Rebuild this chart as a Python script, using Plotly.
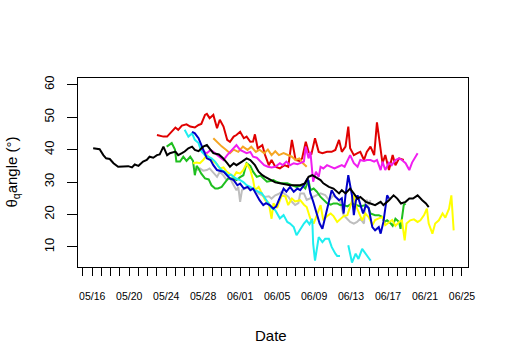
import pandas as pd
import plotly.graph_objects as go

# ---- data (day offset from 05/16, angle in degrees) ----
start_date = "2015-05-16"

black_day = [0.1,0.8,1.2,1.5,1.9,2.3,2.8,3.3,3.9,4.3,4.6,5.0,5.5,5.9,6.2,6.6,7.0,7.3,7.7,8.1,8.4,9.0,9.3,9.7,10.0,10.4,10.8,11.1,11.5,12.0,12.4,12.7,13.1,13.7,14.1,14.6,14.9,15.3,15.6,16.2,16.7,17.1,17.6,18.0,18.4,18.7,19.3,19.8,20.3,20.9,21.4,22.0,22.5,23.0,23.4,23.8,24.1,24.7,25.0,25.6,26.1,26.7,27.0,27.4,27.9,28.3,28.7,29.0,29.6,30.1,30.6,31.2,31.5,32.1,32.6,33.0,33.4,33.9,34.3,34.7,35.2,35.7,36.1,36.4]
black_val = [40.4,40.1,38.3,37.3,37.1,35.8,34.7,34.7,34.9,34.5,35.4,35.0,36.3,36.8,37.8,37.5,38.3,38.5,40.9,38.3,38.9,39.4,38.3,38.9,39.4,40.4,40.9,39.9,39.5,40.9,41.4,40.3,38.9,38.5,37.5,35.8,34.7,35.8,35.2,36.3,37.3,36.8,35.2,33.2,32.1,31.6,30.6,29.9,29.6,29.3,29.0,29.0,29.0,29.6,31.6,32.1,31.6,30.6,29.6,28.5,28.0,26.5,27.5,26.5,28.0,26.5,24.9,25.4,23.9,23.4,22.9,23.9,22.9,24.4,25.9,24.9,23.4,23.9,24.9,24.9,25.9,24.4,23.4,22.3]

red_day = [7.0,7.7,8.1,8.6,9.0,9.3,9.7,10.2,10.6,11.1,11.5,11.8,12.2,12.4,12.7,13.1,13.5,13.8,14.2,14.6,14.9,15.3,15.6,16.0,16.4,16.7,17.1,17.4,17.6,17.9,18.4,18.7,19.1,19.4,19.8,20.3,20.8,21.2,21.6,22.0,22.4,22.7,23.1,23.4,23.7,24.1,24.5,24.9,25.4,25.9,26.3,26.7,27.0,27.4,27.7,27.9,28.3,28.7,29.0,29.4,29.7,30.1,30.5,30.8,31.1,31.4,31.7,32.1,32.5,32.8,33.2,33.7]
red_val = [44.5,44.0,44.0,45.5,46.8,46.1,47.4,47.8,47.1,46.8,47.6,47.9,50.7,51.0,49.7,50.7,46.6,49.2,47.1,43.0,42.4,44.0,44.5,45.5,43.5,44.0,42.4,42.5,44.7,40.4,41.4,38.3,35.2,36.8,34.7,34.2,35.2,34.7,43.0,36.8,36.5,37.3,42.4,39.3,38.5,43.5,39.3,38.9,39.3,39.3,39.9,43.0,39.3,40.9,47.1,40.4,38.3,38.9,39.3,36.8,39.3,40.9,38.3,48.4,41.4,35.8,38.3,33.7,38.3,35.2,37.3,36.8]

orange_day = [13.1,13.6,14.0,14.5,14.9,15.3,15.8,16.3,16.8,17.2,17.7,18.1,18.6,19.0,19.4,19.8,20.2,20.7,21.1,21.6,22.0,22.4,22.8,23.2]
orange_val = [43.5,42.0,41.0,39.9,38.9,40.0,39.3,40.9,39.9,40.9,39.3,40.0,38.9,40.0,38.3,39.5,38.3,38.9,38.3,37.8,36.8,37.3,35.8,34.7]

magenta_day = [11.8,12.1,12.4,12.8,13.1,13.5,13.8,14.2,14.6,14.9,15.3,15.6,16.0,16.4,16.7,17.1,17.4,17.8,18.2,18.6,19.0,19.4,19.8,20.3,20.6,21.0,21.4,21.8,22.2,22.5,22.9,23.1,23.4,23.6,23.9,24.2,24.5,24.7,25.0,25.4,25.8,26.2,26.6,27.0,27.3,27.6,27.9,28.3,28.7,29.0,29.4,29.7,30.1,30.5,30.8,31.2,31.4,31.7,32.1,32.4,32.8,33.2,33.5,33.9,34.3,34.6,34.9,35.2]
magenta_val = [40.4,39.3,38.9,39.9,39.3,38.3,37.8,36.8,38.3,39.3,40.4,41.4,39.9,39.3,38.9,39.3,37.8,37.5,36.3,35.2,34.7,34.5,34.7,35.8,35.2,36.3,35.2,35.8,35.5,35.8,36.3,40.9,37.3,39.3,30.1,33.2,31.6,34.7,34.2,35.2,34.7,34.2,34.7,35.2,34.7,36.8,38.3,35.8,34.7,36.8,36.5,36.8,36.8,36.3,36.8,33.7,36.3,33.7,36.0,35.2,36.8,37.3,36.8,35.8,33.7,36.0,37.5,38.9]

gray_day = [11.3,11.65,12.0,12.4,12.7,13.1,13.5,13.8,14.2,14.55,14.9,15.3,15.6,15.8,16.0,16.2,16.5,16.9,17.3,17.6,18.0,18.35,18.7,19.1,19.4,19.8,20.15,20.5,20.9,21.2,21.6,21.95,22.3,22.5,22.9,23.2,23.6,23.95,24.3,24.7,25.2,25.6,25.8,26.1,26.5,26.8,27.2,27.6,27.9,28.3,28.65,29.0,29.4,29.55,29.7,29.9,30.1]
gray_val = [33.7,34.2,33.5,33.7,34.2,33.0,31.6,33.2,32.0,30.6,31.2,29.0,27.5,28.5,23.9,27.5,28.0,28.5,28.0,27.8,26.5,26.0,25.4,25.6,24.9,25.9,26.3,27.0,26.0,25.5,23.9,22.9,23.5,26.5,26.5,24.5,25.0,25.4,26.0,26.5,26.0,24.5,24.9,25.9,25.0,24.0,19.8,18.5,17.7,17.2,17.7,18.7,17.2,23.9,24.5,22.9,24.4]

green_day = [8.05,8.6,8.95,9.1,9.5,9.85,10.2,10.6,10.9,11.1,11.3,11.5,11.8,12.2,12.6,12.9,13.3,13.6,14.0,14.3,14.7,15.3,15.6,16.0,16.35,16.7,17.1,17.4,17.8,18.2,18.5,18.9,19.25,19.6,20.0,20.5,21.1,21.6,22.1,22.7,23.05,23.4,23.6,23.95,24.3,24.7,25.0,25.4,25.8,26.1,26.5,26.8,27.2,27.6,28.1,28.5,29.0,29.55,29.9,30.1,30.6,31.0,31.4,31.6,31.9,32.3,32.5,32.8,33.2,33.35,33.7,33.9]
green_val = [40.9,42.0,40.0,36.3,36.3,37.8,36.5,37.8,36.5,32.1,35.0,34.2,32.6,31.1,30.8,29.0,28.0,28.0,28.5,29.5,31.1,31.1,30.6,31.5,32.1,35.8,35.0,33.2,31.6,32.0,31.1,30.1,30.3,30.6,30.0,29.6,29.6,29.0,28.5,29.0,28.0,30.6,27.5,28.0,27.0,25.4,24.5,23.5,23.0,23.4,23.4,22.9,22.9,22.5,23.4,22.9,22.5,22.9,22.0,20.3,19.8,19.8,19.2,17.7,18.2,17.2,16.5,18.7,17.7,15.6,22.9,23.4]

yellow_day = [10.9,11.3,11.65,12.0,12.4,12.7,13.1,13.5,13.8,14.2,14.55,14.9,15.3,15.6,16.0,16.35,16.7,17.1,17.4,17.6,18.0,18.35,18.7,19.1,19.25,19.4,19.6,20.0,20.5,20.9,21.2,21.6,21.95,22.5,22.9,23.2,23.6,23.95,24.3,24.7,25.0,25.4,25.8,26.1,26.5,26.8,27.2,27.6,27.9,28.3,28.5,28.8,29.2,29.55,29.9,30.3,30.6,31.0,31.4,31.7,32.1,32.45,32.8,33.2,33.5,33.8,34.0,34.4,34.8,35.2,35.5,35.9,36.2,36.4,36.8,37.1,37.5,37.9,38.2,38.6,38.85,39.1]
yellow_val = [35.8,36.0,35.8,36.8,38.3,37.3,36.3,35.5,34.2,34.5,33.2,32.5,31.6,33.0,32.6,33.7,35.8,33.7,30.6,27.5,28.5,26.5,24.4,23.5,20.3,18.7,23.4,22.0,25.9,25.5,22.9,24.9,24.0,24.4,23.0,22.3,18.7,17.2,19.8,22.9,18.2,19.5,20.3,19.5,17.7,18.5,19.5,19.8,22.3,25.9,22.9,21.0,18.2,20.3,19.2,16.7,18.3,18.8,19.2,16.7,17.7,18.3,16.5,17.7,18.2,12.0,17.2,18.2,18.5,17.7,18.2,19.8,21.8,17.2,14.1,17.2,18.2,20.3,19.0,21.8,25.9,15.1]

cyan1_day = [10.0,10.4,10.8,11.1,11.5,11.8,12.2,12.6,12.9,13.3,13.6,14.0,14.4,14.7,15.0,15.3,15.6,16.0,16.35,16.7,17.1,17.6,18.0,18.35,18.7,19.1,19.4,19.8,20.3,20.7,21.1,21.4,21.8,22.1,22.5,22.9,23.2,23.5,23.8,23.9,24.1,24.5,24.9,25.2,25.6,25.9,26.3,26.5,26.8]
cyan1_val = [46.1,44.0,45.0,43.0,42.0,39.5,38.3,37.8,37.3,36.3,35.0,33.7,33.0,32.0,32.3,31.6,31.0,30.6,30.0,29.0,28.5,27.5,27.0,26.5,25.0,23.4,22.0,21.3,18.8,19.8,17.7,17.2,16.1,13.6,15.5,17.2,18.2,17.0,18.7,11.0,5.8,13.0,11.5,12.5,12.5,10.0,7.9,7.2,7.2]
cyan2_day = [27.7,28.1,28.5,28.8,29.2,29.55,29.9,30.1]
cyan2_val = [10.5,5.2,7.9,6.3,9.4,7.9,6.3,5.8]

blue_day = [10.8,11.1,11.5,11.8,12.0,12.4,12.8,13.1,13.5,13.8,14.2,14.6,14.9,15.3,15.7,16.0,16.4,16.8,17.1,17.4,17.8,18.1,18.5,18.8,19.2,19.6,19.9,20.3,20.7,21.0,21.4,21.8,22.2,22.5,22.9,23.3,23.6,23.9,24.2,24.6,24.9,25.2,25.6,25.9,26.3,26.7,27.0,27.2,27.4,27.7,27.9,28.1,28.3,28.5,28.7,29.0,29.3,29.6,29.9,30.3,30.6,31.0,31.2,31.5,31.7,31.9,32.1]
blue_val = [45.5,45.0,43.5,41.4,40.4,37.3,36.8,35.2,33.7,33.5,33.2,32.0,31.1,30.6,29.0,29.5,28.0,28.5,27.5,28.0,25.9,24.4,22.9,23.5,22.9,21.8,22.5,25.5,28.0,27.0,28.5,27.0,28.0,27.5,29.0,31.1,26.5,24.0,21.0,17.2,15.6,19.5,23.9,27.5,25.5,24.4,25.0,20.3,26.0,32.1,29.0,25.9,19.8,23.9,25.9,22.9,20.3,22.9,22.0,16.1,15.1,16.1,14.1,17.7,22.0,25.9,24.9]

tick_labels = ["05/16","05/20","05/24","05/28","06/01","06/05","06/09","06/13","06/17","06/21","06/25"]

# ---- helpers ----
base = pd.Timestamp(start_date)
def to_dates(days):
    return [None if d is None else base + pd.Timedelta(days=d) for d in days]

series = [
    ("red", "#E00000", red_day, red_val),
    ("orange", "#F5A623", orange_day, orange_val),
    ("magenta", "#F01EF0", magenta_day, magenta_val),
    ("gray", "#BEBEBE", gray_day, gray_val),
    ("green", "#1FBF1F", green_day, green_val),
    ("yellow", "#FFFF00", yellow_day, yellow_val),
    ("cyan", "#1EEEF0", cyan1_day + [None] + cyan2_day, cyan1_val + [None] + cyan2_val),
    ("blue", "#0000C8", blue_day, blue_val),
    ("black", "#000000", black_day, black_val),
]

fig = go.Figure()
for name, color, d, v in series:
    fig.add_trace(go.Scatter(x=to_dates(d), y=v, mode="lines", name=name,
                             line=dict(color=color, width=2), connectgaps=False,
                             showlegend=False))

year = base.year
label_dates = [pd.Timestamp(f"{year}/{lab}") for lab in tick_labels]

font_family = "Liberation Sans, Arial, sans-serif"
fig.update_layout(
    width=508, height=364,
    margin=dict(l=78, r=40, t=78, b=97),
    paper_bgcolor="white", plot_bgcolor="white",
    font=dict(family=font_family, color="black"),
    xaxis=dict(
        type="date",
        range=[base - pd.Timedelta(days=1.54), base + pd.Timedelta(days=40.65)],
        tickvals=label_dates, ticktext=tick_labels,
        ticks="outside", ticklen=8, tickwidth=1, tickcolor="black",
        minor=dict(ticks="outside", ticklen=8, tickwidth=1, tickcolor="black",
                   dtick=86400000, tick0=start_date, showgrid=False),
        ticklabelstandoff=11,
        tickfont=dict(size=10.5, family=font_family, color="black"),
        showline=True, mirror=True, linecolor="black", linewidth=1,
        showgrid=False, zeroline=False,
    ),
    yaxis=dict(
        range=[3.81, 62.07],
        tickvals=[10, 20, 30, 40, 50, 60],
        ticks="outside", ticklen=10, tickwidth=1, tickcolor="black",
        tickangle=-90, ticklabelstandoff=8,
        tickfont=dict(size=13, family=font_family, color="black"),
        showline=True, mirror=True, linecolor="black", linewidth=1,
        showgrid=False, zeroline=False,
    ),
    annotations=[
        dict(text="Date", xref="paper", yref="paper",
             x=0.5 - (272.7 - 271) / 390, y=(267 - 335) / 189,
             xanchor="center", yanchor="middle", showarrow=False,
             font=dict(size=15, family=font_family, color="black")),
        dict(text="θ<sub>q</sub>angle (°)", xref="paper", yref="paper",
             x=(12 - 78) / 390, y=0.5, textangle=-90,
             xanchor="center", yanchor="middle", showarrow=False,
             font=dict(size=15, family=font_family, color="black")),
    ],
)

fig.write_html("out.html", config={"displayModeBar": False},
               post_script="document.body.style.margin='0';")
